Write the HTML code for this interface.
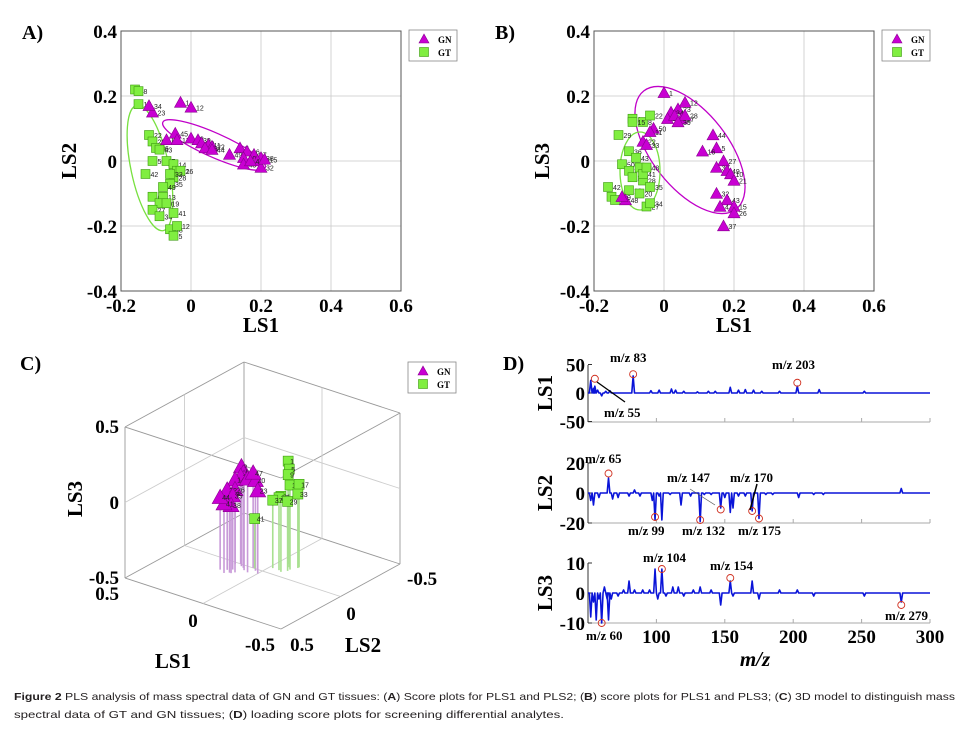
<!DOCTYPE html>
<html><head><meta charset="utf-8"><style>
html,body{margin:0;padding:0;background:#fff;}
svg{display:block;}
.tk{font-family:"Liberation Serif",serif;font-weight:bold;font-size:19px;fill:#000;}
.ttl{font-family:"Liberation Serif",serif;font-weight:bold;font-size:21px;fill:#000;}
.pl{font-family:"Liberation Serif",serif;font-weight:bold;font-size:20px;fill:#000;}
.lg{font-family:"Liberation Serif",serif;font-weight:bold;font-size:9px;fill:#000;}
.nm{font-family:"Liberation Sans",sans-serif;font-size:7px;fill:#222;}
.mz{font-family:"Liberation Serif",serif;font-weight:bold;font-size:13px;fill:#000;}
.cap{font-family:"Liberation Sans",sans-serif;font-size:10.5px;fill:#231f20;}
</style></head><body>
<svg id="fig" width="970" height="732" viewBox="0 0 970 732" xmlns="http://www.w3.org/2000/svg">
<g id="gA"></g>
<g id="gB"></g>
<g id="gC"></g>
<g id="gD"></g>
<text class="cap" x="14" y="700" textLength="941" lengthAdjust="spacingAndGlyphs"><tspan font-weight="bold">Figure 2</tspan> PLS analysis of mass spectral data of GN and GT tissues: (<tspan font-weight="bold">A</tspan>) Score plots for PLS1 and PLS2; (<tspan font-weight="bold">B</tspan>) score plots for PLS1 and PLS3; (<tspan font-weight="bold">C</tspan>) 3D model to distinguish mass</text>
<text class="cap" x="14" y="718" textLength="550" lengthAdjust="spacingAndGlyphs">spectral data of GT and GN tissues; (<tspan font-weight="bold">D</tspan>) loading score plots for screening differential analytes.</text>
</svg>
<script>
// ---- Panel A data (LS1, LS2) ----
const aGN_x=[-0.03,0,-0.11,-0.12,-0.045,-0.07,-0.04,0,0.02,0.03,0.05,0.06,0.04,0.06,0.14,0.16,0.18,0.2,0.11,0.15,0.19,0.2,0.15,0.17,0.21];
const aGN_y=[0.18,0.165,0.15,0.17,0.085,0.065,0.065,0.07,0.065,0.055,0.05,0.045,0.04,0.035,0.04,0.03,0.02,0.01,0.02,0.01,0,-0.02,-0.01,0,0.005];
const aGT_x=[-0.16,-0.15,-0.15,-0.12,-0.11,-0.1,-0.09,-0.11,-0.07,-0.05,-0.04,-0.05,-0.06,-0.13,-0.08,-0.11,-0.08,-0.09,-0.11,-0.09,-0.05,-0.06,-0.05,-0.04,-0.07,-0.03,-0.06];
const aGT_y=[0.22,0.215,0.175,0.08,0.06,0.04,0.035,0,0,-0.01,-0.03,-0.05,-0.07,-0.04,-0.08,-0.11,-0.11,-0.13,-0.15,-0.17,-0.16,-0.21,-0.23,-0.2,-0.13,-0.03,-0.04];
// ---- Panel B data (LS1, LS3) ----
const bGN_x=[0,0.06,0.04,0.02,0.01,0.03,0.05,0.06,0.04,-0.03,-0.04,-0.06,-0.05,0.14,0.15,0.11,0.17,0.15,0.18,0.19,0.2,0.15,0.18,0.16,0.2,0.2,0.17,-0.11,-0.12];
const bGN_y=[0.21,0.18,0.16,0.15,0.13,0.14,0.13,0.14,0.12,0.1,0.09,0.06,0.05,0.08,0.04,0.03,0,-0.02,-0.03,-0.04,-0.06,-0.1,-0.12,-0.14,-0.14,-0.16,-0.2,-0.12,-0.11];
const bGT_x=[-0.09,-0.06,-0.09,-0.04,-0.13,-0.1,-0.08,-0.12,-0.1,-0.07,-0.09,-0.06,-0.04,-0.16,-0.15,-0.14,-0.1,-0.07,-0.05,-0.04,-0.06,-0.05];
const bGT_y=[0.13,0.12,0.12,0.14,0.08,0.03,0.01,-0.01,-0.03,-0.02,-0.05,-0.06,-0.08,-0.08,-0.11,-0.12,-0.09,-0.1,-0.14,-0.13,-0.04,-0.02];
const xTicks=[-0.2,0,0.2,0.4,0.6];
const yTicks=[0.4,0.2,0,-0.2,-0.4];
// ---- Panel C data (LS1, LS2, LS3) ----
const cGN_1=[0.12,0.1,0.08,0.14,0.16,0.05,0.03,0.0,0.1,0.12,0.15,0.13,0.11,0.14,0.18,0.06];
const cGN_2=[0.02,0.03,0.05,0.0,0.02,0.06,0.02,0.04,0.1,0.12,0.1,0.08,0.12,0.14,0.12,0.0];
const cGN_3=[0.16,0.13,0.11,0.08,0.06,0.12,0.1,0.05,0.05,0.02,0.03,-0.01,-0.05,-0.04,-0.02,0.13];
const cGT_1=[-0.05,-0.08,-0.05,-0.1,-0.12,-0.08,-0.06,-0.1,-0.12,-0.02,0.05];
const cGT_2=[-0.15,-0.12,-0.15,-0.1,-0.15,-0.05,-0.06,-0.08,-0.14,-0.06,0.0];
const cGT_3=[0.18,0.15,0.09,0.06,0.05,0.0,-0.02,-0.04,-0.01,-0.05,-0.17];
// ---- Panel D data ----
const ls1_mz=[52,54,55,57,60,63,66,83,96,102,111,114,120,130,138,143,154,160,165,171,177,190,203,219,252];
const ls1_v=[22,8,12,5,-5,3,4,30,4,5,7,5,3,2,3,3,10,5,6,5,3,3,12,6,3];
const ls2_mz=[52,54,58,65,68,72,80,84,88,97,99,102,104,110,118,125,132,135,140,147,150,154,156,160,165,170,175,180,185,204,215,222,279];
const ls2_v=[-5,-8,-3,10,-4,-3,-2,2,-2,-5,-18,-2,-18,-1,-8,-2,-19,-1,-1,-10,-3,-13,-10,-2,-2,-12,-17,-1,-1,-3,-1,-1,3];
const ls3_mz=[52,54,56,58,60,62,64,65,67,72,76,80,84,90,95,99,101,104,107,112,116,120,127,132,140,147,150,154,156,170,175,190,203,215,252,279];
const ls3_v=[-8,-3,-9,-2,-10,2,-2,-9,-2,-1,1,4,1,1,1,8,-2,8,-1,2,2,-1,1,2,1,-4,0,4,-1,4,-2,1,1,-1,-1,-3];
const dXTicks=[100,150,200,250,300];
const mzMarks1=[[55,25],[83,33],[203,18]];
const mzMarks2=[[65,13],[99,-16],[132,-18],[147,-11],[170,-12],[175,-17]];
const mzMarks3=[[60,-10],[104,8],[154,5],[279,-4]];

const NS='http://www.w3.org/2000/svg';
function mk(parent,tag,attrs,text){const e=document.createElementNS(NS,tag);for(const k in attrs)e.setAttribute(k,attrs[k]);if(text!==undefined)e.textContent=text;parent.appendChild(e);return e;}
const GNF='#c800d2', GNS='#8a0090', GTF='#80ee40', GTS='#3c9a10';

function tri(g,x,y,s){const e=mk(g,'polygon',{points:`${x},${y-s} ${x-s},${y+s*0.8} ${x+s},${y+s*0.8}`,fill:GNF,stroke:GNS,'stroke-width':0.6});

return e;}
function sq(g,x,y,s){const e=mk(g,'rect',{x:x-s,y:y-s,width:2*s,height:2*s,fill:GTF,stroke:GTS,'stroke-width':0.6});

return e;}

function legend(g,x,y){const b=mk(g,'rect',{x:x,y:y,width:48,height:31,fill:'#fff',stroke:'#888','stroke-width':0.8});


tri(g,x+15,y+9,5);mk(g,'text',{class:'lg',x:x+29,y:y+13},'GN');
sq(g,x+15,y+22,4.5);mk(g,'text',{class:'lg',x:x+29,y:y+26},'GT');}

function scatterPanel(g,x0,letter,yTitle,gnx,gny,gtx,gty,ellGN,ellGT){
  const L=x0,R=x0+280,T=31,B=291;
  const X=v=>L+(v+0.2)*350, Y=v=>161-v*325;
  mk(g,'rect',{x:L,y:T,width:280,height:260,fill:'#fff',stroke:'#555','stroke-width':1});
  xTicks.forEach(t=>{const px=X(t);mk(g,'line',{x1:px,y1:T,x2:px,y2:B,stroke:'#c8c8c8','stroke-width':0.8});
    mk(g,'text',{class:'tk',x:px,y:312,'text-anchor':'middle'},t===0?'0':t.toFixed(1));});
  yTicks.forEach(t=>{const py=Y(t);mk(g,'line',{x1:L,y1:py,x2:R,y2:py,stroke:'#c8c8c8','stroke-width':0.8});
    mk(g,'text',{class:'tk',x:L-4,y:py+7,'text-anchor':'end'},t===0?'0':t.toFixed(1));});
  mk(g,'rect',{x:L,y:T,width:280,height:260,fill:'none',stroke:'#555','stroke-width':1});
  const xt=mk(g,'text',{class:'ttl',x:(L+R)/2,y:332,'text-anchor':'middle'},'LS1');
  
  
  const yt=mk(g,'text',{class:'ttl',x:0,y:0,'text-anchor':'middle',transform:`translate(${L-45},161) rotate(-90)`},yTitle);
  
  
  mk(g,'text',{class:'pl',x:x0-99,y:39},letter);
  mk(g,'ellipse',{cx:ellGN[0],cy:ellGN[1],rx:ellGN[2],ry:ellGN[3],transform:`rotate(${ellGN[4]} ${ellGN[0]} ${ellGN[1]})`,fill:'none',stroke:'#c000c8','stroke-width':1.3});
  mk(g,'ellipse',{cx:ellGT[0],cy:ellGT[1],rx:ellGT[2],ry:ellGT[3],transform:`rotate(${ellGT[4]} ${ellGT[0]} ${ellGT[1]})`,fill:'none',stroke:'#78e040','stroke-width':1.3});
  gtx.forEach((v,i)=>{sq(g,X(v),Y(gty[i]),4.5);mk(g,'text',{class:'nm',x:X(v)+5,y:Y(gty[i])+3},String((i*7)%50+1));});
  gnx.forEach((v,i)=>{tri(g,X(v),Y(gny[i]),6);mk(g,'text',{class:'nm',x:X(v)+5,y:Y(gny[i])+3},String((i*11)%50+1));});
  legend(g,x0+288,30);
}
scatterPanel(document.getElementById('gA'),121,'A)','LS2',aGN_x,aGN_y,aGT_x,aGT_y,[214,145,56,12,24],[150,168,19,64,-12]);
scatterPanel(document.getElementById('gB'),594,'B)','LS3',bGN_x,bGN_y,bGT_x,bGT_y,[690,150,75,38,52],[640,171,20,39,0]);

// ---- Panel C ----
(function(){
  const g=document.getElementById('gC');
  const vA=[-156,-51], vB=[-119,65], vC=151, cx=262.5, cy=495.5;
  const P=(a,b,c)=>[cx+a*vA[0]+b*vB[0], cy+a*vA[1]+b*vB[1]-c*vC];
  const ln=(p,q,col,w)=>mk(g,'line',{x1:p[0],y1:p[1],x2:q[0],y2:q[1],stroke:col||'#999','stroke-width':w||0.9});
  const h=0.5;
  ln(P(h,h,-h),P(h,-h,-h));ln(P(h,-h,-h),P(-h,-h,-h));ln(P(h,-h,-h),P(h,-h,h));
  ln(P(h,h,-h),P(-h,h,-h));ln(P(-h,h,-h),P(-h,-h,-h));
  ln(P(h,h,-h),P(h,h,h));ln(P(-h,-h,-h),P(-h,-h,h));
  ln(P(h,h,h),P(h,-h,h));ln(P(h,-h,h),P(-h,-h,h));ln(P(h,h,h),P(-h,h,h));ln(P(-h,h,h),P(-h,-h,h));
  ln(P(h,0,-h),P(h,0,h),'#ccc');ln(P(h,h,0),P(h,-h,0),'#ccc');
  ln(P(0,-h,-h),P(0,-h,h),'#ccc');ln(P(h,-h,0),P(-h,-h,0),'#ccc');
  ln(P(0,h,-h),P(0,-h,-h),'#ccc');ln(P(h,0,-h),P(-h,0,-h),'#ccc');
  cGN_1.forEach((a,i)=>{const p=P(a,cGN_2[i],cGN_3[i]),q=P(a,cGN_2[i],-h);ln(p,q,'#c89ad8',1.6);});
  cGT_1.forEach((a,i)=>{const p=P(a,cGT_2[i],cGT_3[i]),q=P(a,cGT_2[i],-h);ln(p,q,'#a8e090',1.6);});
  cGT_1.forEach((a,i)=>{const p=P(a,cGT_2[i],cGT_3[i]);sq(g,p[0],p[1],5);mk(g,'text',{class:'nm',x:p[0]+2,y:p[1]+3},String(i*4+1));});
  cGN_1.forEach((a,i)=>{const p=P(a,cGN_2[i],cGN_3[i]);tri(g,p[0],p[1],8);mk(g,'text',{class:'nm',x:p[0]+2,y:p[1]+3},String(i*3+2));});
  mk(g,'text',{class:'tk',x:119,y:433,'text-anchor':'end'},'0.5');
  mk(g,'text',{class:'tk',x:119,y:509,'text-anchor':'end'},'0');
  mk(g,'text',{class:'tk',x:119,y:584,'text-anchor':'end'},'-0.5');
  mk(g,'text',{class:'tk',x:119,y:600,'text-anchor':'end'},'0.5');
  mk(g,'text',{class:'tk',x:193,y:627,'text-anchor':'middle'},'0');
  mk(g,'text',{class:'tk',x:260,y:651,'text-anchor':'middle'},'-0.5');
  mk(g,'text',{class:'tk',x:302,y:651,'text-anchor':'middle'},'0.5');
  mk(g,'text',{class:'tk',x:351,y:620,'text-anchor':'middle'},'0');
  mk(g,'text',{class:'tk',x:407,y:585},'-0.5');
  mk(g,'text',{class:'ttl',x:173,y:668,'text-anchor':'middle'},'LS1');
  mk(g,'text',{class:'ttl',x:363,y:652,'text-anchor':'middle'},'LS2');
  mk(g,'text',{class:'ttl',x:0,y:0,'text-anchor':'middle',transform:'translate(82,499) rotate(-90)'},'LS3');
  mk(g,'text',{class:'pl',x:20,y:370},'C)');
  legend(g,408,362);
})();

// ---- Panel D ----
(function(){
  const g=document.getElementById('gD');
  const L=588,R=930;
  const X=m=>L+(m-50)*(R-L)/250;
  const subs=[
    {mz:ls1_mz,v:ls1_v,y0:393,sc:0.57,ticks:[50,0,-50],bot:422,top:365,title:'LS1',marks:mzMarks1,name:'ls1-loading'},
    {mz:ls2_mz,v:ls2_v,y0:493,sc:1.5,ticks:[20,0,-20],bot:523,top:463,title:'LS2',marks:mzMarks2,name:'ls2-loading'},
    {mz:ls3_mz,v:ls3_v,y0:593,sc:3.0,ticks:[10,0,-10],bot:623,top:563,title:'LS3',marks:mzMarks3,name:'ls3-loading'}];
  subs.forEach((s,si)=>{
    const Y=v=>s.y0-v*s.sc;
    mk(g,'line',{x1:L,y1:s.top,x2:L,y2:s.bot,stroke:'#333','stroke-width':1});
    mk(g,'line',{x1:L,y1:s.bot,x2:R,y2:s.bot,stroke:'#aaa','stroke-width':1});
    dXTicks.forEach(t=>mk(g,'line',{x1:X(t),y1:s.bot,x2:X(t),y2:s.bot-4,stroke:'#aaa'}));
    s.ticks.forEach(t=>{mk(g,'line',{x1:L,y1:Y(t),x2:L+4,y2:Y(t),stroke:'#333'});
      mk(g,'text',{class:'tk',x:L-3,y:Y(t)+7,'text-anchor':'end'},String(t));});
    mk(g,'text',{class:'ttl',x:0,y:0,'text-anchor':'middle',transform:`translate(552,${s.y0}) rotate(-90)`},s.title);
    let pts=[[X(50),Y(0)]];
    s.mz.forEach((m,i)=>{pts.push([X(m-1),Y(0)]);pts.push([X(m),Y(s.v[i])]);pts.push([X(m+1),Y(0)]);});
    pts.push([X(300),Y(0)]);
    const pl=mk(g,'polyline',{points:pts.map(p=>p.join(',')).join(' '),fill:'none',stroke:'#0a14d8','stroke-width':1.6,'stroke-linejoin':'round'});
    
    
    s.marks.forEach(mv=>mk(g,'circle',{cx:X(mv[0]),cy:Y(mv[1]),r:3.5,fill:'none',stroke:'#d03020','stroke-width':0.9}));
  });
  dXTicks.forEach(t=>mk(g,'text',{class:'tk',x:X(t),y:643,'text-anchor':'middle'},String(t)));
  mk(g,'text',{class:'ttl',x:755,y:666,'text-anchor':'middle','font-style':'italic'},'m/z');
  mk(g,'text',{class:'pl',x:503,y:370},'D)');
  const lab=[[610,362,'m/z 83'],[772,369,'m/z 203'],[604,417,'m/z 55'],[585,463,'m/z 65'],[667,482,'m/z 147'],[730,482,'m/z 170'],[628,535,'m/z 99'],[682,535,'m/z 132'],[738,535,'m/z 175'],[643,562,'m/z 104'],[710,570,'m/z 154'],[885,620,'m/z 279'],[586,640,'m/z 60']];
  lab.forEach(l=>mk(g,'text',{class:'mz',x:l[0],y:l[1]},l[2]));
  mk(g,'line',{x1:597,y1:382,x2:625,y2:402,stroke:'#000','stroke-width':1.3});
  mk(g,'line',{x1:690,y1:489,x2:715,y2:505,stroke:'#555','stroke-width':0.7});
  mk(g,'line',{x1:757,y1:484,x2:750,y2:510,stroke:'#000','stroke-width':1.5});
})();
</script>
</body></html>
